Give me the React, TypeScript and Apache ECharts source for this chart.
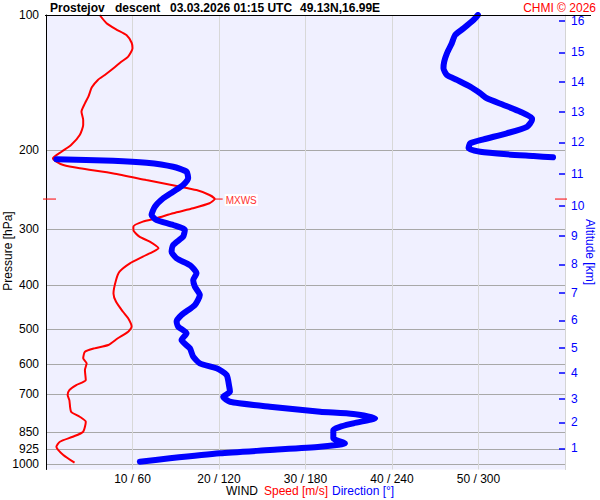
import { useEffect, useRef } from "react";
import * as echarts from "echarts";

// ---- axis ticks ----
const pressureTicks = [100, 200, 300, 400, 500, 600, 700, 850, 925, 1000];
const speedTicks = [10, 20, 30, 40, 50];
const directionTicks = [60, 120, 180, 240, 300];
const altitudeKm = [1, 2, 3, 4, 5, 6, 7, 8, 9, 10, 11, 12, 13, 14, 15, 16];
const altitudeP = [922.7, 807.3, 714.7, 626.3, 550.8, 478.6, 415.5, 359.3, 310.0, 266.0, 226.0, 192.1, 164.3, 140.8, 121.1, 103.1];

// ---- wind speed profile (m/s) vs pressure (hPa) ----
const speedP = [100, 104.3, 107.6, 110.8, 115.3, 118.6, 123.8, 127.1, 131.4, 136.0, 139.5, 144.9, 152.0, 157.3, 164.2, 171.3, 175.8, 185.0, 194.8, 201.6, 208.5, 212.2, 215.9, 219.5, 225.3, 233.1, 240.4, 245.4, 251.7, 256.9, 262.6, 269.4, 276.4, 283.6, 288.6, 296.1, 301.2, 311.7, 319.8, 330.8, 336.6, 345.4, 357.3, 373.0, 389.2, 416.9, 435.2, 458.1, 473.8, 494.6, 507.4, 524.8, 543.3, 552.6, 562.3, 581.6, 596.7, 617.6, 650.2, 667.2, 684.5, 702.3, 720.5, 764.8, 784.7, 805.1, 847.5, 869.5, 892.1, 915.4, 955.0, 993.4];
const speedV = [6.2, 7.0, 8.1, 9.3, 9.9, 10.0, 9.5, 8.7, 7.8, 6.8, 6.0, 5.3, 4.9, 4.5, 4.1, 4.3, 4.3, 3.9, 2.9, 1.8, 0.8, 1.2, 2.0, 3.9, 7.8, 11.6, 15.1, 17.4, 18.9, 19.5, 18.9, 17.0, 14.7, 12.8, 11.2, 10.1, 10.1, 10.8, 12.0, 13.0, 12.4, 11.2, 9.7, 8.5, 8.1, 7.8, 8.1, 8.9, 9.5, 9.9, 9.5, 8.3, 7.2, 5.6, 4.5, 4.3, 4.7, 4.5, 4.6, 3.5, 2.7, 2.5, 2.7, 2.9, 3.9, 4.6, 4.3, 3.1, 1.6, 1.2, 2.0, 3.3];

// ---- wind direction (deg) vs pressure, upper part (before the 360/0 wrap) ----
const dirUpP = [100, 102.6, 107.1, 110.8, 115.6, 121.7, 127.1, 131.4, 136.0, 139.5, 144.4, 149.4, 153.3, 158.6, 164.2, 169.9, 171.3, 177.4, 183.4, 189.2, 193.2, 198.1, 201.6, 204.3, 206.1, 207.5];
const dirUpD = [299.6, 296.5, 289.6, 283.8, 281.5, 278.1, 276.2, 275.7, 278.1, 285.0, 294.2, 301.2, 305.8, 317.4, 329.0, 337.1, 337.1, 333.6, 319.7, 303.5, 294.2, 293.1, 301.2, 319.7, 338.2, 351.7];

// ---- wind direction, lower part ----
const dirLoP = [209.6, 211.1, 213.3, 217.7, 223.4, 231.1, 239.1, 247.5, 256.0, 267.3, 278.9, 286.1, 293.6, 301.2, 311.7, 325.3, 336.6, 348.3, 360.6, 376.1, 389.2, 402.8, 420.3, 442.4, 465.7, 481.5, 494.6, 511.6, 529.5, 552.6, 576.8, 596.7, 612.2, 633.6, 672.6, 690.2, 708.3, 726.7, 745.4, 764.8, 773.8, 791.0, 811.6, 840.3, 876.7, 899.4, 915.4, 931.0, 946.6, 971.1, 988.3];
const dirLoD = [7.2, 46.5, 69.7, 88.2, 97.5, 98.6, 95.1, 88.2, 81.3, 75.5, 73.2, 76.7, 88.2, 96.3, 95.1, 88.2, 87.1, 90.6, 99.8, 104.4, 102.1, 103.3, 106.7, 103.3, 94.0, 90.6, 91.7, 97.5, 94.0, 99.8, 102.1, 106.7, 118.3, 125.3, 127.1, 127.6, 122.9, 127.6, 155.3, 190.1, 213.2, 228.3, 213.2, 199.3, 199.3, 207.4, 190.1, 155.3, 120.6, 85.9, 65.1];

// ---- max wind level ----
const mxwsSpeed = 19.5;
const mxwsP = 257;

const titleParts = ["Prostejov", "descent", "03.03.2026 01:15 UTC", "49.13N,16.99E"];

const FONT = '"Liberation Sans", Arial, sans-serif';

export default function App() {
  const ref = useRef<HTMLDivElement>(null);

  useEffect(() => {
    const chart = echarts.init(ref.current!, null, { renderer: "svg" });

    const altFormatter = (v: number) => {
      let best = 0;
      let bd = Infinity;
      altitudeP.forEach((p, i) => {
        const d = Math.abs(p - v);
        if (d < bd) {
          bd = d;
          best = i;
        }
      });
      return String(altitudeKm[best]);
    };

    const presFormatter = (v: number) => {
      let best = pressureTicks[0];
      let bd = Infinity;
      pressureTicks.forEach((p) => {
        const d = Math.abs(p - v);
        if (d < bd) {
          bd = d;
          best = p;
        }
      });
      return String(best);
    };

    chart.setOption({
      animation: false,
      backgroundColor: "#ffffff",
      textStyle: { fontFamily: FONT },
      grid: {
        left: 46,
        right: 35,
        top: 15,
        bottom: 30.5,
        show: true,
        backgroundColor: "#f0f0ff",
        borderWidth: 0,
        containLabel: false,
        outerBoundsMode: "none",
      },
      xAxis: [
        {
          type: "value",
          min: 0,
          max: 60,
          interval: 10,
          position: "bottom",
          axisLine: { show: false, onZero: false },
          axisTick: { show: false },
          axisLabel: {
            color: "#000",
            fontSize: 12,
            fontFamily: FONT,
            margin: 3,
            formatter: (v: number) => {
              const i = speedTicks.indexOf(v);
              return i < 0 ? "" : `${speedTicks[i]} / ${directionTicks[i]}`;
            },
          },
          splitLine: { show: true, lineStyle: { color: "#d8d8d8", width: 1 } },
        },
        {
          type: "value",
          min: 0,
          max: 360,
          show: false,
          axisLine: { onZero: false },
          splitLine: { show: false },
        },
      ],
      yAxis: [
        {
          type: "log",
          logBase: 10,
          inverse: true,
          min: 100,
          max: 1028.6,
          position: "left",
          axisLine: { show: true, onZero: false, lineStyle: { color: "#000", width: 1 } },
          axisTick: { show: false, customValues: pressureTicks },
          axisLabel: {
            customValues: pressureTicks,
            color: "#000",
            fontSize: 12,
            fontFamily: FONT,
            margin: 7,
            formatter: presFormatter,
          },
          splitLine: { show: true, lineStyle: { color: "#a8a8a8", width: 1 } },
          minorTick: { show: false },
          minorSplitLine: { show: false },
        },
        {
          type: "log",
          logBase: 10,
          inverse: true,
          min: 100,
          max: 1028.6,
          position: "right",
          axisLine: { show: true, onZero: false, lineStyle: { color: "#d4d4d4", width: 1 } },
          axisTick: {
            show: true,
            inside: true,
            length: 6,
            customValues: altitudeP,
            lineStyle: { color: "#0000ff", width: 1.5 },
          },
          axisLabel: {
            customValues: altitudeP,
            color: "#0000ff",
            fontSize: 12,
            fontFamily: FONT,
            margin: 6,
            formatter: altFormatter,
          },
          splitLine: { show: false },
        },
      ],
      series: [
        {
          name: "Speed",
          type: "line",
          xAxisIndex: 0,
          yAxisIndex: 0,
          data: speedP.map((p, i) => [speedV[i], p]),
          showSymbol: false,
          smooth: 0.2,
          lineStyle: { color: "#ff0000", width: 2 },
          z: 2,
        },
        {
          name: "DirectionUpper",
          type: "line",
          xAxisIndex: 1,
          yAxisIndex: 0,
          data: dirUpP.map((p, i) => [dirUpD[i], p]),
          showSymbol: false,
          smooth: 0.2,
          lineStyle: { color: "#0000ff", width: 6, cap: "round", join: "round" },
          z: 3,
        },
        {
          name: "DirectionLower",
          type: "line",
          xAxisIndex: 1,
          yAxisIndex: 0,
          data: dirLoP.map((p, i) => [dirLoD[i], p]),
          showSymbol: false,
          smooth: 0.2,
          lineStyle: { color: "#0000ff", width: 6, cap: "round", join: "round" },
          z: 3,
        },
      ],
    });

    const [mx, my] = chart.convertToPixel({ xAxisIndex: 0, yAxisIndex: 0 }, [mxwsSpeed, mxwsP]) as number[];
    const xl = chart.convertToPixel({ xAxisIndex: 0 }, 0) as number;
    const xr = chart.convertToPixel({ xAxisIndex: 0 }, 60) as number;
    const yTop = chart.convertToPixel({ yAxisIndex: 0 }, 100) as number;

    const tx = (text: string, x: number, y: number, fill: string, extra: any = {}) => ({
      type: "text",
      x,
      y,
      z: 50,
      style: {
        text,
        fill,
        font: `${extra.bold ? "bold " : ""}${extra.size || 12}px ${FONT}`,
        textAlign: extra.align || "left",
        textVerticalAlign: "middle",
        ...(extra.style || {}),
      },
    });

    chart.setOption({
      graphic: [
        // title line
        {
          type: "line",
          z: 40,
          shape: { x1: xl - 1, y1: yTop + 0.5, x2: 591, y2: yTop + 0.5 },
          style: { stroke: "#000", lineWidth: 1 },
        },
        tx(titleParts[0], 50, 8, "#000", { bold: true }),
        tx(titleParts[1], 115, 8, "#000", { bold: true }),
        tx(titleParts[2], 170, 8, "#000", { bold: true }),
        tx(titleParts[3], 300, 8, "#000", { bold: true }),
        tx("CHMI © 2026", 596, 8, "#ff0000", { align: "right" }),
        // axis names
        { ...tx("Pressure [hPa]", 8, 251, "#000", { align: "center" }), rotation: Math.PI / 2 },
        { ...tx("Altitude [km]", 590, 252, "#0000ff", { align: "center" }), rotation: -Math.PI / 2 },
        // bottom legend
        tx("WIND", 226, 491, "#000"),
        tx("Speed [m/s]", 264, 491, "#ff0000"),
        tx("Direction [°]", 332, 491, "#0000ff"),
        // MXWS markers
        {
          type: "line",
          z: 40,
          shape: { x1: xl - 3, y1: my, x2: xl + 10, y2: my },
          style: { stroke: "#ff0000", lineWidth: 1 },
        },
        {
          type: "line",
          z: 40,
          shape: { x1: xr - 10, y1: my, x2: xr + 2, y2: my },
          style: { stroke: "#ff0000", lineWidth: 1 },
        },
        {
          type: "line",
          z: 40,
          shape: { x1: mx, y1: my, x2: mx + 8, y2: my },
          style: { stroke: "#ff0000", lineWidth: 1 },
        },
        tx("MXWS", mx + 10, my + 1, "#ff3030", {
          size: 10,
          style: { backgroundColor: "#ffffff", padding: [1, 1, 1, 1] },
        }),
      ],
    });

    return () => chart.dispose();
  }, []);

  return (
    <div
      ref={ref}
      style={{ position: "fixed", left: 0, top: 0, width: 600, height: 500, background: "#fff" }}
    />
  );
}
